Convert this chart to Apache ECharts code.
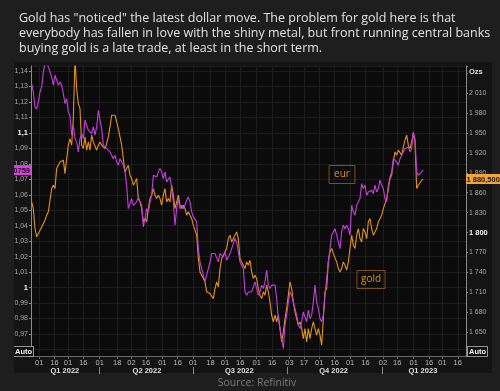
<!DOCTYPE html>
<html><head><meta charset="utf-8">
<script src="https://cdn.jsdelivr.net/npm/echarts@6/dist/echarts.min.js"></script>
<style>html,body{margin:0;padding:0;background:#1e1e1e;}#c{width:500px;height:391px;}</style>
</head><body><div id="c"></div>
<script>
const titleText = 'Gold has "noticed" the latest dollar move. The problem for gold here is that\neverybody has fallen in love with the shiny metal, but front running central banks\nbuying gold is a late trade, at least in the short term.';
const sourceText = 'Source: Refinitiv';

// EUR/USD readings (left axis), sampled from Jan 2022 to Feb 2023
const eurValues = [
1.1318,1.1264,1.1167,1.1153,1.1200,1.1264,1.1297,1.1394,1.1447,1.1460,
1.1426,1.1415,1.1361,1.1308,1.1372,1.1340,1.1308,1.1329,1.1308,1.1253,
1.1189,1.1221,1.1135,1.1114,1.0985,1.1049,1.0963,1.0941,1.0877,1.0963,
1.0995,1.0963,1.1082,1.1049,1.1017,1.1027,1.0995,1.1038,1.0985,1.1038,
1.1146,1.1082,1.1027,1.0920,1.0909,1.0898,1.0898,1.0877,1.0855,1.0833,
1.0855,1.0812,1.0791,1.0833,1.0812,1.0791,1.0748,1.0662,1.0510,1.0510,
1.0575,1.0532,1.0543,1.0554,1.0586,1.0554,1.0532,1.0392,1.0446,1.0510,
1.0489,1.0554,1.0597,1.0726,1.0726,1.0715,1.0748,1.0769,1.0748,1.0704,
1.0748,1.0683,1.0672,1.0715,1.0640,1.0554,1.0403,1.0510,1.0575,1.0510,
1.0532,1.0510,1.0532,1.0565,1.0586,1.0554,1.0489,1.0457,1.0446,1.0425,
1.0252,1.0166,1.0177,1.0080,1.0037,1.0080,1.0123,1.0166,1.0220,1.0209,
1.0220,1.0209,1.0166,1.0220,1.0231,1.0198,1.0231,1.0177,1.0177,1.0220,
1.0252,1.0284,1.0317,1.0295,1.0231,1.0166,1.0166,1.0123,0.9972,0.9951,
0.9972,0.9961,0.9972,0.9961,1.0037,0.9994,0.9951,0.9972,1.0016,0.9994,
1.0037,1.0113,1.0016,0.9994,1.0016,1.0026,1.0016,0.9929,0.9800,0.9735,
0.9671,0.9606,0.9757,0.9822,0.9908,0.9972,0.9951,0.9908,0.9864,0.9822,
0.9757,0.9735,0.9779,0.9843,0.9854,0.9779,0.9854,0.9800,0.9822,0.9908,
1.0016,0.9908,0.9864,0.9800,0.9779,0.9822,0.9951,1.0058,1.0166,1.0252,
1.0339,1.0360,1.0381,1.0339,1.0295,1.0252,1.0360,1.0403,1.0381,1.0403,
1.0381,1.0339,1.0532,1.0489,1.0468,1.0532,1.0532,1.0575,1.0672,1.0640,
1.0662,1.0597,1.0618,1.0607,1.0629,1.0607,1.0662,1.0618,1.0640,1.0694,
1.0662,1.0640,1.0575,1.0554,1.0662,1.0715,1.0748,1.0833,1.0844,1.0812,
1.0791,1.0833,1.0855,1.0877,1.0898,1.0888,1.0909,1.0877,1.0898,1.1006,
1.0963,1.0748,1.0726,1.0715,1.0748,1.0759
];

// Gold readings in USD/oz (right axis), same sampling
const goldValues = [
1846.1,1836.0,1805.9,1793.4,1798.3,1803.5,1808.4,1808.4,1818.5,1826.1,
1831.1,1828.5,1866.2,1871.3,1866.2,1896.3,1901.4,1906.4,1906.4,1909.0,
1888.8,1911.4,1931.6,1941.6,1931.6,1971.7,2062.0,2016.9,1994.3,1986.8,
1931.6,1926.5,1944.1,1924.1,1936.6,1924.1,1946.7,1936.6,1936.6,1924.1,
1931.6,1936.6,1931.6,1929.1,1926.5,1934.0,1944.1,1959.2,1976.8,1974.3,
1976.8,1979.3,1956.6,1954.2,1931.6,1911.4,1891.4,1896.3,1901.4,1886.4,
1881.3,1871.3,1876.3,1881.3,1851.1,1846.1,1836.0,1816.0,1821.0,1816.0,
1836.0,1851.1,1856.3,1866.2,1856.3,1851.1,1856.3,1851.1,1841.2,1856.3,
1866.2,1846.1,1851.1,1846.1,1871.3,1856.3,1836.0,1846.1,1856.3,1841.2,
1836.0,1841.2,1836.0,1826.1,1831.1,1826.1,1821.0,1811.0,1813.4,1795.9,
1760.7,1740.6,1743.2,1730.5,1725.5,1710.5,1710.5,1707.9,1710.5,1700.4,
1715.5,1725.5,1718.0,1745.6,1760.7,1765.8,1768.2,1775.8,1790.8,1795.9,
1785.8,1790.8,1795.9,1800.9,1790.8,1760.7,1755.7,1750.7,1745.6,1755.7,
1750.7,1758.2,1740.6,1730.5,1735.6,1730.5,1715.5,1705.5,1700.4,1710.5,
1705.5,1720.6,1710.5,1695.4,1675.3,1665.2,1675.3,1665.2,1675.3,1655.1,
1635.1,1650.2,1670.2,1685.3,1705.5,1725.5,1715.5,1695.4,1680.3,1670.2,
1660.3,1665.2,1655.1,1640.0,1655.1,1635.1,1655.1,1640.0,1655.1,1665.2,
1655.1,1645.2,1655.1,1645.2,1630.1,1670.2,1710.5,1715.5,1755.7,1770.8,
1775.8,1768.2,1770.8,1755.7,1745.6,1740.6,1745.6,1755.7,1750.7,1743.2,
1755.7,1775.8,1795.9,1780.9,1775.8,1795.9,1805.9,1790.8,1785.8,1805.9,
1800.9,1790.8,1816.0,1821.0,1805.9,1795.9,1800.9,1805.9,1816.0,1821.0,
1826.1,1836.0,1843.6,1851.1,1866.2,1881.3,1886.4,1906.4,1921.5,1916.5,
1924.1,1921.5,1916.5,1929.1,1939.2,1946.7,1931.6,1926.5,1936.6,1949.1,
1936.6,1866.2,1871.3,1873.7,1878.8,1880.5
];

// sampling grid of the readings (days from 2022-01-24)
const sampleOrigin = '2022-01-24';
const firstSampleDay = 0.65;
const sampleStepDays = 1.6245;

const axisStart = '2022-01-24';
const axisEnd = '2023-03-24';
const dayTickDates = ['2022-02-01','2022-02-16','2022-03-01','2022-03-16','2022-04-01','2022-04-18','2022-05-02','2022-05-16','2022-06-01','2022-06-16','2022-07-01','2022-07-18','2022-08-01','2022-08-16','2022-09-01','2022-09-16','2022-10-03','2022-10-17','2022-11-01','2022-11-16','2022-12-01','2022-12-16','2023-01-02','2023-01-16','2023-02-01','2023-02-16','2023-03-01','2023-03-16'];
const quarterLabels = ['Q1 2022','Q2 2022','Q3 2022','Q4 2022','Q1 2023'];
const quarterLabelDates = ['2022-02-26','2022-05-17','2022-08-15','2022-11-15','2023-02-10'];
const quarterSeparatorDates = ['2022-04-01','2022-07-01','2022-10-01','2023-01-01'];

const eurAxisMin = 0.9558, eurAxisMax = 1.1432, eurStep = 0.01;
const goldAxisMin = 1613.8, goldAxisMax = 2051, goldStep = 30;
const eurBoldTicks = ['1,1','1'];
const goldBoldTicks = ['1 800'];
const seriesNames = ['eur','gold'];
const lastEurLabel = '1,0759';
const lastGoldLabel = '1 880,500';
const goldUnit = 'Ozs';

const DAY = 86400000;
function ts(s){const p=s.split('-').map(Number);return Date.UTC(p[0],p[1]-1,p[2]);}
const origin = ts(sampleOrigin);
const sampleTimes = eurValues.map((_, i) => origin + (firstSampleDay + i * sampleStepDays) * DAY);
const eurData = eurValues.map((v, i) => [sampleTimes[i], v]);
const goldData = goldValues.map((v, i) => [sampleTimes[i], v]);
const qMap = {};
quarterLabelDates.forEach((d, i) => { qMap[ts(d)] = quarterLabels[i]; });

function fmtEur(v){
  if (v < 0.965 || v > 1.145) return '';
  let s = String(Math.round(v * 100) / 100).replace('.', ',');
  return eurBoldTicks.indexOf(s) >= 0 ? '{b|' + s + '}' : s;
}
function fmtGold(v){
  if (v < 1640 || v > 2015) return '';
  const r = Math.round(v);
  const s = r >= 1000 ? Math.floor(r / 1000) + ' ' + String(r % 1000).padStart(3, '0') : String(r);
  return goldBoldTicks.indexOf(s) >= 0 ? '{b|' + s + '}' : s;
}

const FONT = 'Liberation Sans';
const chart = echarts.init(document.getElementById('c'), null, {renderer: 'canvas'});
const eurColor = '#c43fdc', goldColor = '#e3921f';

chart.setOption({
  backgroundColor: '#1e1e1e',
  animation: false,
  title: {
    text: titleText, left: 14, top: 6,
    textStyle: {color: '#e2e2e2', fontSize: 12.5, fontWeight: 'normal', fontFamily: 'Open Sans', lineHeight: 15}
  },
  grid: {left: 31, right: 34, top: 66, bottom: 35, show: true, backgroundColor: '#0b0b0b', borderWidth: 0},
  xAxis: [{
    type: 'value', min: ts(axisStart), max: ts(axisEnd),
    axisLine: {show: true, lineStyle: {color: '#6a6a6a', width: 1}},
    axisTick: {show: true, length: 3, lineStyle: {color: '#666'}, customValues: dayTickDates.map(ts)},
    axisLabel: {
      customValues: dayTickDates.map(ts), color: '#b8b8b8', fontSize: 7.5, fontFamily: FONT, margin: 3,
      formatter: v => String(new Date(v).getUTCDate()).padStart(2, '0')
    },
    splitLine: {show: true, lineStyle: {color: '#1d1d1d', width: 1}}
  }, {
    type: 'value', min: ts(axisStart), max: ts(axisEnd), position: 'bottom', offset: 11,
    axisLine: {show: false},
    axisTick: {show: true, length: 7, lineStyle: {color: '#8a8a8a'}, customValues: quarterSeparatorDates.map(ts)},
    axisLabel: {
      customValues: quarterLabelDates.map(ts), color: '#dedede', fontSize: 7.5, fontWeight: 'bold', fontFamily: FONT, margin: 0,
      formatter: v => qMap[v] || ''
    },
    splitLine: {show: false}
  }],
  yAxis: [{
    type: 'value', position: 'left', min: eurAxisMin, max: eurAxisMax,
    splitNumber: 19, minInterval: eurStep, maxInterval: eurStep,
    axisLine: {show: true, lineStyle: {color: '#8a8a8a'}},
    axisTick: {show: true, length: 2, lineStyle: {color: '#888'}},
    axisLabel: {formatter: fmtEur, color: '#a8a8a8', fontSize: 7, fontFamily: FONT, margin: 3,
      rich: {b: {fontWeight: 'bold', color: '#f0f0f0', fontSize: 7.5, fontFamily: FONT}}},
    splitLine: {show: true, lineStyle: {color: '#1d1d1d'}}
  }, {
    type: 'value', position: 'right', min: goldAxisMin, max: goldAxisMax,
    splitNumber: 15, minInterval: goldStep, maxInterval: goldStep,
    axisLine: {show: true, lineStyle: {color: '#8a8a8a'}},
    axisTick: {show: true, length: 2, lineStyle: {color: '#888'}},
    axisLabel: {formatter: fmtGold, color: '#a8a8a8', fontSize: 7, fontFamily: FONT, margin: 3,
      rich: {b: {fontWeight: 'bold', color: '#f0f0f0', fontSize: 7.5, fontFamily: FONT}}},
    splitLine: {show: false}
  }],
  series: [{
    name: seriesNames[1], type: 'line', xAxisIndex: 0, yAxisIndex: 1, data: goldData,
    showSymbol: false, symbol: 'none', lineStyle: {color: goldColor, width: 1.1}, z: 2
  }, {
    name: seriesNames[0], type: 'line', xAxisIndex: 0, yAxisIndex: 0, data: eurData,
    showSymbol: false, symbol: 'none', lineStyle: {color: eurColor, width: 1.1}, z: 3
  }]
});

const lastEur = eurValues[eurValues.length - 1];
const lastGold = goldValues[goldValues.length - 1];
const yEur = chart.convertToPixel({yAxisIndex: 0}, lastEur);
const yGold = chart.convertToPixel({yAxisIndex: 1}, lastGold);
const g = chart.getModel().getComponent('grid').coordinateSystem.getRect();
const L = g.x, R = g.x + g.width, B = g.y + g.height;

chart.setOption({
  graphic: [
    {type: 'rect', z: -10, silent: true, shape: {x: 14, y: 62, width: 478, height: 311}, style: {fill: '#141414'}},
    {type: 'rect', z: 10, shape: {x: L - 17, y: yEur - 5, width: 17, height: 10}, style: {fill: '#d444dc'}},
    {type: 'text', z: 11, style: {text: lastEurLabel, x: L - 1, y: yEur + 0.5, align: 'right', verticalAlign: 'middle', fill: '#1a0a1a', font: 'bold 7.5px "Liberation Sans"'}},
    {type: 'rect', z: 12, shape: {x: 0, y: 62, width: 14, height: 311}, style: {fill: '#1e1e1e'}},
    {type: 'rect', z: 10, shape: {x: R, y: yGold - 5, width: 500 - R, height: 10}, style: {fill: '#f0a53c'}},
    {type: 'text', z: 11, style: {text: lastGoldLabel, x: R + 0.5, y: yGold + 0.5, align: 'left', verticalAlign: 'middle', fill: '#1a1205', font: 'bold 7.5px "Liberation Sans"'}},
    {type: 'text', z: 11, style: {text: goldUnit, x: R + 3, y: 72, verticalAlign: 'middle', fill: '#dcdcdc', font: 'bold 7.5px "Liberation Sans"'}},
    {type: 'text', z: 11, style: {text: 'Auto', x: 14, y: B - 4.5, verticalAlign: 'middle', fill: '#f2f2f2', font: 'bold 7.5px "Liberation Sans"', backgroundColor: '#111', borderColor: '#bbb', borderWidth: 0.8, padding: [1, 1, 0, 1]}},
    {type: 'text', z: 11, style: {text: 'Auto', x: R + 2, y: B - 4.5, verticalAlign: 'middle', fill: '#f2f2f2', font: 'bold 7.5px "Liberation Sans"', backgroundColor: '#111', borderColor: '#bbb', borderWidth: 0.8, padding: [1, 1, 0, 1]}},
    {type: 'text', z: 11, style: {text: seriesNames[0], x: 342, y: 174.5, align: 'center', verticalAlign: 'middle', fill: goldColor, font: '10px "Open Sans"', borderColor: '#7a5118', borderWidth: 1, padding: [4, 5, 4, 5]}},
    {type: 'text', z: 11, style: {text: seriesNames[1], x: 371, y: 279.5, align: 'center', verticalAlign: 'middle', fill: goldColor, font: '10px "Open Sans"', borderColor: '#7a5118', borderWidth: 1, padding: [4, 4, 4, 4]}},
    {type: 'text', z: 11, style: {text: sourceText, x: 257, y: 383, align: 'center', verticalAlign: 'middle', fill: '#7c7c7c', font: '10.5px "Open Sans"'}}
  ]
});
</script></body></html>
